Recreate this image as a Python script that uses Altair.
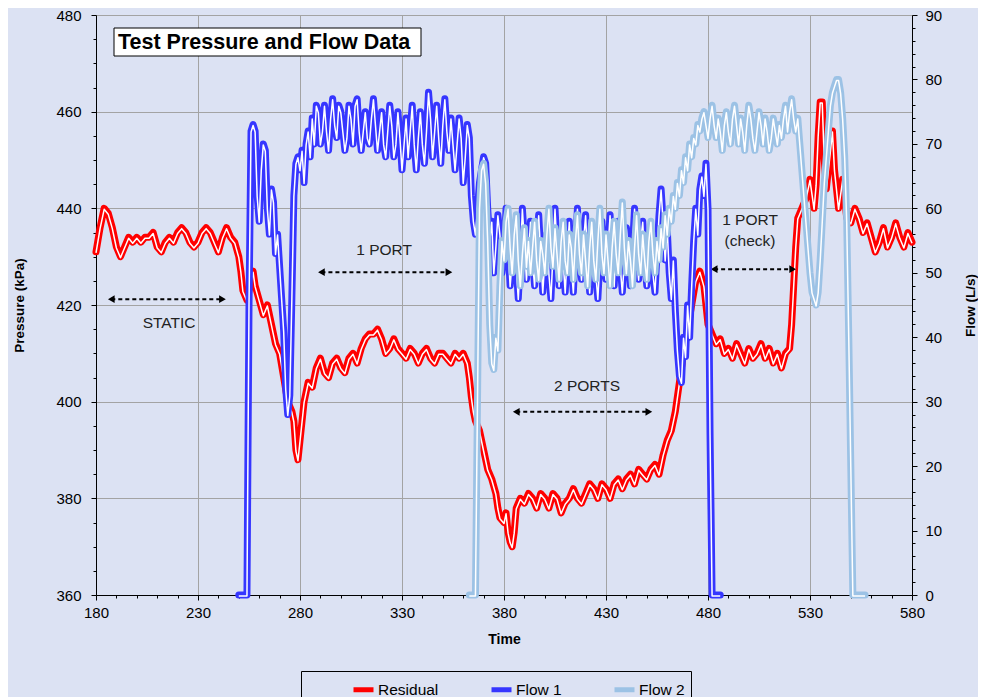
import altair as alt
import pandas as pd

BG = "#dce2f3"
FONT = "Liberation Sans"

# ---------------- data (time s, value) ----------------
RESIDUAL = [
    (180, 431), (182, 436), (184, 440), (186, 439), (188, 436), (190, 432), (192, 430), (194, 432),
    (196, 434), (198, 433), (200, 434), (202, 433), (204, 434), (206, 434), (208, 435), (210, 432),
    (212, 431), (214, 433), (216, 434), (218, 433), (220, 435), (222, 436), (224, 435), (226, 433),
    (228, 432), (230, 433), (232, 435), (234, 436), (236, 435), (238, 433), (240, 431), (242, 434),
    (244, 436), (246, 434), (248, 433), (250, 430), (251, 427), (252, 423), (254, 421), (256, 425),
    (257, 427), (258, 424), (260, 421), (262, 418), (264, 420), (266, 416), (268, 412), (270, 410),
    (272, 405), (274, 400), (276, 398), (277, 396), (278, 390), (279, 388), (280, 392), (282, 400),
    (284, 404), (286, 403), (288, 407), (290, 409), (292, 406), (294, 405), (296, 408), (298, 409),
    (300, 407), (302, 406), (304, 409), (306, 410), (308, 408), (310, 411), (312, 413), (314, 414),
    (316, 414), (318, 415), (320, 413), (322, 410), (324, 411), (326, 413), (328, 411), (330, 410),
    (332, 409), (334, 411), (336, 410), (338, 408), (340, 410), (342, 411), (344, 409), (346, 408),
    (348, 410), (350, 410), (352, 409), (354, 408), (356, 410), (358, 409), (360, 410), (362, 408),
    (363, 405), (364, 401), (365, 398), (366, 396), (368, 394), (370, 390), (372, 386), (374, 384),
    (376, 381), (377, 378), (378, 376), (380, 375), (381, 377), (382, 373), (383, 371), (384, 370),
    (385, 373), (386, 378), (388, 380), (390, 379), (392, 381), (394, 380), (396, 378), (398, 381),
    (400, 380), (402, 378), (404, 381), (406, 380), (408, 377), (410, 379), (412, 380), (414, 382),
    (416, 380), (418, 379), (420, 381), (422, 383), (424, 382), (426, 380), (428, 383), (430, 382),
    (432, 380), (434, 383), (436, 384), (438, 382), (440, 384), (442, 385), (444, 383), (446, 386),
    (448, 385), (450, 384), (452, 386), (454, 387), (456, 385), (458, 389), (460, 392), (462, 394),
    (464, 398), (466, 404), (468, 410), (470, 415), (472, 420), (474, 425), (476, 427), (478, 424),
    (479, 420), (480, 416), (482, 414), (484, 412), (486, 413), (488, 410), (490, 411), (492, 409),
    (494, 412), (496, 410), (498, 408), (500, 411), (502, 409), (504, 410), (506, 412), (508, 409),
    (510, 411), (512, 408), (514, 410), (516, 407), (518, 410), (520, 411), (521, 416), (522, 424),
    (523, 432), (524, 438), (526, 440), (528, 442), (530, 446), (532, 440), (533, 445), (534, 455),
    (535, 462), (536, 462), (537, 450), (538, 444), (540, 452), (541, 456), (542, 448), (544, 440),
    (546, 446), (548, 438), (550, 437), (552, 440), (554, 438), (556, 435), (558, 437), (560, 434),
    (562, 431), (564, 433), (566, 436), (568, 432), (570, 434), (572, 437), (574, 434), (576, 432),
    (578, 435), (580, 433),
]

FLOW1 = [
    (250, 0), (254, 0), (255, 45), (256, 72), (257, 73), (258, 72), (259, 62), (260, 58), (261, 66),
    (262, 70), (263, 69), (264, 60), (265, 56), (266, 63), (267, 61), (268, 53), (269, 56), (270, 51),
    (271, 46), (272, 41), (273, 32), (274, 28), (275, 31), (276, 46), (277, 62), (278, 67), (279, 68),
    (280, 66), (281, 69), (282, 64), (283, 70), (284, 72), (285, 68), (286, 74), (287, 70), (288, 76),
    (289, 75), (290, 70), (291, 72), (292, 76), (293, 72), (294, 69), (295, 74), (296, 77), (297, 73),
    (298, 71), (299, 76), (300, 75), (301, 72), (302, 69), (303, 71), (304, 76), (305, 74), (306, 70),
    (307, 76), (308, 77), (309, 72), (310, 69), (311, 72), (312, 75), (313, 71), (314, 70), (315, 74),
    (316, 77), (317, 73), (318, 69), (319, 72), (320, 75), (321, 70), (322, 68), (323, 72), (324, 76),
    (325, 73), (326, 68), (327, 70), (328, 75), (329, 71), (330, 66), (331, 70), (332, 74), (333, 68),
    (334, 72), (335, 76), (336, 70), (337, 66), (338, 71), (339, 75), (340, 70), (341, 67), (342, 72),
    (343, 78), (344, 74), (345, 68), (346, 72), (347, 76), (348, 71), (349, 67), (350, 73), (351, 77),
    (352, 72), (353, 69), (354, 74), (355, 70), (356, 66), (357, 70), (358, 74), (359, 71), (360, 64),
    (361, 68), (362, 73), (363, 71), (364, 62), (365, 58), (366, 56), (367, 60), (368, 64), (369, 66),
    (370, 68), (371, 67), (372, 60), (373, 55), (374, 58), (375, 50), (376, 54), (377, 59), (378, 56),
    (379, 50), (380, 53), (381, 60), (382, 54), (383, 48), (384, 52), (385, 57), (386, 51), (387, 46),
    (388, 52), (389, 60), (390, 55), (391, 49), (392, 53), (393, 58), (394, 52), (395, 48), (396, 54),
    (397, 59), (398, 53), (399, 47), (400, 52), (401, 56), (402, 50), (403, 46), (404, 53), (405, 60),
    (406, 54), (407, 48), (408, 55), (409, 52), (410, 47), (411, 53), (412, 58), (413, 51), (414, 47),
    (415, 54), (416, 60), (417, 53), (418, 49), (419, 55), (420, 59), (421, 52), (422, 47), (423, 53),
    (424, 57), (425, 50), (426, 46), (427, 52), (428, 58), (429, 53), (430, 49), (431, 54), (432, 59),
    (433, 52), (434, 48), (435, 55), (436, 58), (437, 51), (438, 47), (439, 52), (440, 57), (441, 53),
    (442, 48), (443, 54), (444, 60), (445, 53), (446, 49), (447, 55), (448, 58), (449, 52), (450, 48),
    (451, 53), (452, 56), (453, 50), (454, 47), (455, 53), (456, 59), (457, 63), (458, 58), (459, 52),
    (460, 57), (461, 50), (462, 46), (463, 52), (464, 44), (465, 38), (466, 34), (467, 33), (468, 40),
    (469, 37), (470, 45), (471, 40), (472, 48), (473, 55), (474, 60), (475, 56), (476, 63), (477, 65),
    (478, 62), (479, 67), (480, 60), (481, 25), (482, 0), (486, 0),
]

FLOW2 = [
    (363, 0), (366, 0), (367, 30), (368, 60), (369, 66), (370, 67), (371, 64), (372, 55), (373, 42),
    (374, 36), (375, 35), (376, 40), (377, 38), (378, 48), (379, 55), (380, 52), (381, 58), (382, 60),
    (383, 54), (384, 50), (385, 56), (386, 59), (387, 52), (388, 48), (389, 53), (390, 57), (391, 51),
    (392, 55), (393, 50), (394, 54), (395, 58), (396, 52), (397, 49), (398, 55), (399, 53), (400, 50),
    (401, 56), (402, 60), (403, 54), (404, 51), (405, 57), (406, 53), (407, 49), (408, 55), (409, 58),
    (410, 52), (411, 50), (412, 56), (413, 54), (414, 49), (415, 55), (416, 59), (417, 53), (418, 50),
    (419, 56), (420, 52), (421, 48), (422, 54), (423, 58), (424, 52), (425, 49), (426, 55), (427, 60),
    (428, 53), (429, 50), (430, 56), (431, 52), (432, 48), (433, 54), (434, 58), (435, 53), (436, 50),
    (437, 56), (438, 61), (439, 54), (440, 50), (441, 55), (442, 52), (443, 48), (444, 54), (445, 59),
    (446, 53), (447, 50), (448, 56), (449, 52), (450, 49), (451, 55), (452, 58), (453, 53), (454, 50),
    (455, 55), (456, 52), (457, 57), (458, 54), (459, 59), (460, 56), (461, 60), (462, 58), (463, 62),
    (464, 60), (465, 64), (466, 62), (467, 66), (468, 64), (469, 68), (470, 66), (471, 70), (472, 68),
    (473, 71), (474, 70), (475, 73), (476, 72), (477, 74), (478, 75), (479, 73), (480, 71), (481, 74),
    (482, 76), (483, 73), (484, 71), (485, 74), (486, 72), (487, 69), (488, 73), (489, 75), (490, 72),
    (491, 70), (492, 74), (493, 76), (494, 73), (495, 70), (496, 74), (497, 72), (498, 69), (499, 73),
    (500, 76), (501, 74), (502, 71), (503, 69), (504, 72), (505, 75), (506, 73), (507, 70), (508, 74),
    (509, 72), (510, 69), (511, 71), (512, 74), (513, 72), (514, 70), (515, 73), (516, 71), (517, 74),
    (518, 76), (519, 72), (520, 75), (521, 77), (522, 74), (523, 72), (524, 74), (525, 70), (526, 66),
    (527, 62), (528, 58), (529, 54), (530, 50), (531, 47), (532, 46), (533, 45), (534, 47), (535, 52),
    (536, 58), (537, 64), (538, 68), (539, 72), (540, 76), (541, 78), (542, 79), (543, 80), (544, 80),
    (545, 78), (546, 74), (547, 68), (548, 58), (549, 40), (550, 20), (551, 0), (557, 0),
]

SERIES = ["Residual", "Flow 1", "Flow 2"]
COLORS = ["#ff0000", "#3636ff", "#9cc2e5"]

# annotations (time start, time end, pressure)
ARROW_T1 = [187.5, 290.5, 386.0, 483.0]
ARROW_T2 = [242.0, 353.0, 451.0, 521.5]
ARROW_P = [421.2, 426.8, 397.9, 427.4]
LABEL_T = [215.8, 321.2, 420.7, 500.6, 500.6]
LABEL_P = [416.3, 431.4, 403.2, 437.6, 433.2]
LABEL_TXT = ["STATIC", "1 PORT", "2 PORTS", "1 PORT", "(check)"]
TITLE = "Test Pressure and Flow Data"


def frame(pairs, name):
    return pd.DataFrame({"t": [p[0] for p in pairs], "v": [p[1] for p in pairs], "s": name})


df_res = frame(RESIDUAL, "Residual")
df_f1 = frame(FLOW1, "Flow 1")
df_f2 = frame(FLOW2, "Flow 2")
df_arrows = pd.DataFrame({"t": ARROW_T1, "t2": ARROW_T2, "v": ARROW_P})
df_head_l = pd.DataFrame({"t": ARROW_T1, "v": ARROW_P})
df_head_r = pd.DataFrame({"t": ARROW_T2, "v": ARROW_P})
df_labels = pd.DataFrame({"t": LABEL_T, "v": LABEL_P, "txt": LABEL_TXT})
df_title = pd.DataFrame({"txt": [TITLE]})

GRID = "#a3a3a3"

x_axis = alt.Axis(
    values=list(range(180, 581, 10)),
    labelExpr="(datum.value - 180) % 50 === 0 ? datum.label : ''",
    gridOpacity={"condition": {"test": "(datum.value - 180) % 50 === 0", "value": 1}, "value": 0},
    tickSize={"condition": {"test": "(datum.value - 180) % 50 === 0", "value": 5}, "value": 3},
    labelOverlap=False, labelFlush=False,
    gridColor=GRID, gridWidth=1, domainColor="black", tickColor="black",
    labelFontSize=15, labelColor="black", labelPadding=5,
    title="Time", titleFontSize=14, titleFontWeight="bold", titleColor="black", titlePadding=12,
)
p_axis = alt.Axis(
    values=list(range(360, 481, 5)),
    labelExpr="(datum.value - 360) % 20 === 0 ? datum.label : ''",
    gridOpacity={"condition": {"test": "(datum.value - 360) % 20 === 0", "value": 1}, "value": 0},
    tickSize={"condition": {"test": "(datum.value - 360) % 20 === 0", "value": 5}, "value": 3},
    labelOverlap=False, labelFlush=False,
    gridColor=GRID, gridWidth=1, domainColor="black", tickColor="black",
    labelFontSize=15, labelColor="black", labelPadding=10,
    title="Pressure (kPa)", titleFontSize=13.5, titleFontWeight="bold", titleColor="black",
    titlePadding=29,
)
f_axis = alt.Axis(
    orient="right",
    values=list(range(0, 91, 2)),
    labelExpr="datum.value % 10 === 0 ? datum.label : ''",
    tickSize={"condition": {"test": "datum.value % 10 === 0", "value": 5}, "value": 3},
    labelOverlap=False, labelFlush=False, grid=False,
    domainColor="black", tickColor="black",
    labelFontSize=15, labelColor="black", labelPadding=8,
    title="Flow (L/s)", titleFontSize=13.5, titleFontWeight="bold", titleColor="black",
    titleAngle=270, titlePadding=36,
)

x_scale = alt.Scale(domain=[180, 580], nice=False, zero=False)
p_scale = alt.Scale(domain=[360, 480], nice=False, zero=False)
f_scale = alt.Scale(domain=[0, 90], nice=False)
c_scale = alt.Scale(domain=SERIES, range=COLORS)

X = alt.X("t:Q", scale=x_scale, axis=x_axis)
YP = alt.Y("v:Q", scale=p_scale, axis=p_axis)
YF = alt.Y("v:Q", scale=f_scale, axis=f_axis)

legend = alt.Legend(
    title=None, orient="none", direction="horizontal", legendX=205, legendY=656,
    symbolType="stroke", symbolSize=400, symbolStrokeWidth=5, symbolOffset=44,
    labelFontSize=15.5, labelColor="black", labelOffset=2, columnPadding=6,
    padding=6, strokeColor="black", fillColor=BG,
)
COLOR = alt.Color("s:N", scale=c_scale, legend=legend)
COLOR_NL = alt.Color("s:N", scale=c_scale)


def thick(df, y, col):
    return alt.Chart(df).mark_line(strokeWidth=7, strokeJoin="round", strokeCap="round").encode(
        x=X, y=y, color=col)


def thin(df, y):
    return alt.Chart(df).mark_line(strokeWidth=1.5, color="white", yOffset=1,
                                   strokeJoin="round").encode(x=X, y=y)


arrows = alt.Chart(df_arrows).mark_rule(strokeDash=[4, 3], strokeWidth=2, color="black").encode(
    x=X, x2="t2:Q", y=YP)
heads_l = alt.Chart(df_head_l).mark_point(shape="triangle-left", filled=True, size=60,
                                          color="black", opacity=1).encode(x=X, y=YP)
heads_r = alt.Chart(df_head_r).mark_point(shape="triangle-right", filled=True, size=60,
                                          color="black", opacity=1).encode(x=X, y=YP)
labels = alt.Chart(df_labels).mark_text(fontSize=15.5, color="#222222", font=FONT).encode(
    x=X, y=YP, text="txt:N")

title_box = alt.Chart(df_title).mark_rect(fill="white", stroke="black", strokeWidth=1).encode(
    x=alt.value(18), x2=alt.value(325), y=alt.value(13), y2=alt.value(41))
title_txt = alt.Chart(df_title).mark_text(
    align="left", baseline="middle", fontSize=21.5, fontWeight="bold", color="black", font=FONT
).encode(x=alt.value(22), y=alt.value(28), text="txt:N")

pressure = alt.layer(
    thick(df_res, YP, COLOR), thin(df_res, YP),
    arrows, heads_l, heads_r, labels, title_box, title_txt,
)
flow = alt.layer(
    thick(df_f1, YF, COLOR_NL), thin(df_f1, YF),
    thick(df_f2, YF, COLOR_NL), thin(df_f2, YF),
)

chart = (
    alt.layer(pressure, flow)
    .resolve_scale(y="independent")
    .properties(width=816, height=580, background=BG,
                padding={"left": 4, "top": 0, "right": 0, "bottom": 0})
    .configure_view(fill="white", stroke=None)
    .configure(font=FONT)
)

chart.save("out.html", embed_options={"renderer": "svg", "actions": False})
